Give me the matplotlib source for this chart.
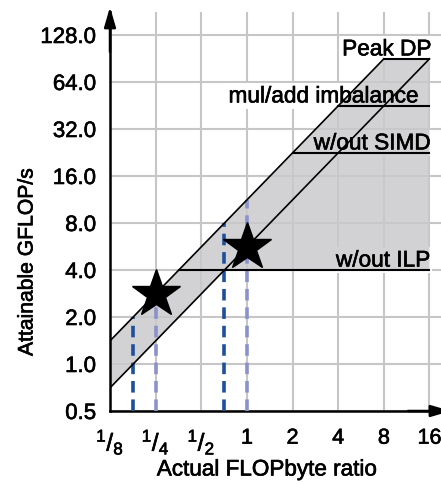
import matplotlib
matplotlib.use("Agg")
import matplotlib.pyplot as plt
import matplotlib.patheffects as pe

# Roofline model: peak, computational ceilings, memory roofs and two kernels
peak_dp = 90.0
ceiling_names = ["mul/add imbalance", "w/out SIMD", "w/out ILP"]
ceiling_values = [45.0, 22.5, 4.0]
stream_bw_high = 11.25
stream_bw_low = 5.625
kernel_x = [0.25, 1.0]
kernel_y = [2.8125, 5.625]
intensity_x = [0.177, 0.25, 0.707, 1.0]
intensity_colors = ["#1d4f9b", "#8b92c9", "#1d4f9b", "#8b92c9"]

x_ticks = [1 / 8, 1 / 4, 1 / 2, 1, 2, 4, 8, 16]
x_tick_labels = [r"${}^{1}/_{8}$", r"${}^{1}/_{4}$", r"${}^{1}/_{2}$",
                 "1", "2", "4", "8", "16"]
y_ticks = [0.5, 1, 2, 4, 8, 16, 32, 64, 128]
y_tick_labels = ["0.5", "1.0", "2.0", "4.0", "8.0", "16.0", "32.0", "64.0", "128.0"]

plt.rcParams["font.family"] = ["Liberation Sans", "DejaVu Sans"]
plt.rcParams["mathtext.fontset"] = "custom"
plt.rcParams["mathtext.rm"] = "Liberation Sans"
plt.rcParams["mathtext.it"] = "Liberation Sans:italic"
plt.rcParams["mathtext.bf"] = "Liberation Sans:bold"
plt.rcParams["mathtext.default"] = "regular"

heavy = [pe.withStroke(linewidth=0.45, foreground="black")]

fig = plt.figure(figsize=(4.41, 4.84), dpi=100)
ax = fig.add_axes([110 / 441, 73 / 484, 331 / 441, 399 / 484])
ax.set_xscale("log", base=2)
ax.set_yscale("log", base=2)
x_lo, x_hi = 1 / 8, 2 ** 4.2525
y_lo, y_hi = 0.5, 2 ** 7.489
ax.set_xlim(x_lo, x_hi)
ax.set_ylim(y_lo, y_hi)

ax.set_axisbelow(True)
ax.grid(True, color="#c6c6c6", lw=1.5)
ax.set_xticks(x_ticks)
ax.set_xticklabels(x_tick_labels)
ax.set_yticks(y_ticks)
ax.set_yticklabels(y_tick_labels)
ax.minorticks_off()
ax.tick_params(axis="both", length=0)
ax.tick_params(axis="y", labelsize=16, pad=10)
ax.tick_params(axis="x", labelsize=15.5, pad=12)
for lab in ax.get_xticklabels() + ax.get_yticklabels():
    lab.set_path_effects(heavy)
for lab in ax.get_xticklabels()[:3]:
    lab.set_fontsize(17.5)

for side in ("top", "right"):
    ax.spines[side].set_visible(False)
for side in ("left", "bottom"):
    ax.spines[side].set_linewidth(1.8)

# Axis arrows
ax.annotate("", xy=(0, 1.0125), xytext=(0, 0.9), xycoords="axes fraction",
            arrowprops=dict(arrowstyle="-|>,head_length=1.2,head_width=0.35",
                            lw=1.8, color="black", shrinkA=0, shrinkB=0,
                            mutation_scale=10), annotation_clip=False)
ax.annotate("", xy=(1.03, 0), xytext=(0.9, 0), xycoords="axes fraction",
            arrowprops=dict(arrowstyle="-|>,head_length=1.2,head_width=0.35",
                            lw=1.8, color="black", shrinkA=0, shrinkB=0,
                            mutation_scale=10), annotation_clip=False)

# Shaded region bounded by the roofs
knee_high = peak_dp / stream_bw_high
knee_low = peak_dp / stream_bw_low
ilp = ceiling_values[-1]
poly_x = [x_lo, knee_high, knee_low, knee_low, ilp / stream_bw_low, x_lo]
poly_y = [stream_bw_high * x_lo, peak_dp, peak_dp, ilp, ilp, stream_bw_low * x_lo]
ax.fill(poly_x, poly_y, color=(0.79, 0.79, 0.795), alpha=0.82, lw=0, zorder=1)

# Memory roofs
ax.plot([x_lo, knee_high], [stream_bw_high * x_lo, peak_dp], color="black", lw=1.2, zorder=4)
ax.plot([x_lo, knee_low], [stream_bw_low * x_lo, peak_dp], color="black", lw=1.2, zorder=4)

# Peak and computational ceilings
ax.plot([knee_high, knee_low], [peak_dp, peak_dp], color="black", lw=1.5, zorder=4)
for val in ceiling_values:
    ax.plot([val / stream_bw_high, knee_low], [val, val], color="black", lw=1.5, zorder=4)

# Labels, with a white backing that hides the grid only
label_names = ["Peak DP"] + ceiling_names
label_values = [peak_dp] + ceiling_values
label_right = [16.5, 13.6, 16.3, 16.2]
for name, val, xr in zip(label_names, label_values, label_right):
    for color, z, bb, eff in (("white", 0.8, dict(fc="white", ec="none", pad=1), None),
                              ("black", 6, None, heavy)):
        ax.annotate(name, xy=(xr, val), xytext=(0, 2.5), textcoords="offset points",
                    ha="right", va="baseline", fontsize=16.3, color=color,
                    zorder=z, bbox=bb, path_effects=eff)

# Arithmetic intensity markers
for xv, col in zip(intensity_x, intensity_colors):
    ax.plot([xv, xv], [y_lo, stream_bw_high * xv], color=col, lw=2.6,
            dashes=(3.2, 1.9), dash_capstyle="butt", zorder=3, clip_on=False)

ax.plot(kernel_x, kernel_y, ls="none", marker="*", ms=36, color="black", zorder=7)

fig.text(267 / 441, 1 - 470 / 484, "Actual FLOPbyte ratio", ha="center",
         va="center", fontsize=16.2, path_effects=heavy)
fig.text(27 / 441, 1 - 262 / 484, "Attainable GFLOP/s", rotation=90,
         ha="center", va="center", fontsize=15.2, path_effects=heavy)

fig.savefig("out.png", dpi=100)
